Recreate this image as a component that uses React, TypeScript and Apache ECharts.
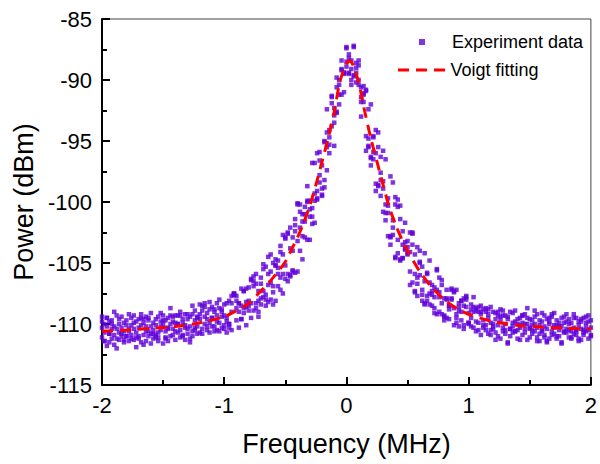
import React, { useEffect, useRef } from "react";
import * as echarts from "echarts";

const xTicks = [-2, -1, 0, 1, 2];
const yTicks = [-115, -110, -105, -100, -95, -90, -85];

const scatterX = [
  -2, -1.98, -1.96, -1.94, -1.92, -1.9, -1.88, -1.86, -1.84, -1.82, -1.8, -1.78, -1.76, -1.74, -1.72, -1.7, -1.68, -1.66, -1.64, -1.62,
  -1.6, -1.58, -1.56, -1.54, -1.52, -1.5, -1.48, -1.46, -1.44, -1.42, -1.4, -1.38, -1.36, -1.34, -1.32, -1.3, -1.28, -1.26, -1.24, -1.22,
  -1.2, -1.18, -1.16, -1.14, -1.12, -1.1, -1.08, -1.06, -1.04, -1.02,
  -1, -0.98, -0.96, -0.94, -0.92, -0.9, -0.88, -0.86, -0.84, -0.82, -0.8, -0.78, -0.76, -0.74, -0.72, -0.7, -0.68, -0.66, -0.64, -0.62,
  -0.6, -0.58, -0.56, -0.54, -0.52,
  -0.5, -0.48, -0.46, -0.44, -0.42, -0.4, -0.38, -0.36, -0.34, -0.32, -0.3, -0.28, -0.26, -0.24, -0.22, -0.2, -0.18, -0.16, -0.14, -0.12,
  -0.1, -0.08, -0.06, -0.04, -0.02, 0, 0.02, 0.04, 0.06, 0.08, 0.1, 0.12, 0.14, 0.16, 0.18, 0.2, 0.22, 0.24, 0.26, 0.28,
  0.3, 0.32, 0.34, 0.36, 0.38, 0.4, 0.42, 0.44, 0.46, 0.48, 0.5,
  0.52, 0.54, 0.56, 0.58, 0.6, 0.62, 0.64, 0.66, 0.68, 0.7, 0.72, 0.74, 0.76, 0.78, 0.8, 0.82, 0.84, 0.86, 0.88, 0.9,
  0.92, 0.94, 0.96, 0.98, 1,
  1.02, 1.04, 1.06, 1.08, 1.1, 1.12, 1.14, 1.16, 1.18, 1.2, 1.22, 1.24, 1.26, 1.28, 1.3, 1.32, 1.34, 1.36, 1.38, 1.4,
  1.42, 1.44, 1.46, 1.48, 1.5, 1.52, 1.54, 1.56, 1.58, 1.6, 1.62, 1.64, 1.66, 1.68, 1.7, 1.72, 1.74, 1.76, 1.78, 1.8,
  1.82, 1.84, 1.86, 1.88, 1.9, 1.92, 1.94, 1.96, 1.98, 2,
];

const scatterY1 = [
  -110.3, -111.4, -109.5, -110.8, -110.0, -111.7, -110.4, -109.6, -111.0, -111.5, -110.1, -109.2, -111.2, -110.4, -110.7, -109.6, -111.5, -109.9, -109.4, -111.0,
  -110.2, -111.2, -109.6, -110.7, -109.1, -111.6, -109.7, -110.3, -109.3, -110.9, -109.9, -110.7, -109.0, -111.0, -110.1, -109.6, -111.2, -109.2, -110.3, -109.5,
  -110.7, -108.9, -110.0, -109.1, -110.7, -109.5, -110.2, -108.3, -109.9, -109.4,
  -110.4, -109.5, -110.3, -109.0, -107.6, -109.7, -108.3, -108.5, -109.1, -108.2, -107.0, -106.4, -106.9, -105.9, -108.1, -108.4, -107.8, -105.3, -106.8, -105.7,
  -107.4, -105.2, -105.9, -106.2, -105.9,
  -103.0, -105.9, -106.0, -104.0, -101.4, -105.7, -100.2, -101.0, -101.0, -103.1, -101.2, -101.2, -96.8, -99.8, -98.4, -99.5, -95.1, -94.3, -94.7, -91.9,
  -95.4, -89.8, -91.2, -88.4, -89.4, -88.9, -87.9, -90.4, -87.2, -89.4, -90.0, -93.0, -91.8, -90.8, -95.5, -96.4, -96.5, -98.5, -95.5, -99.5,
  -98.3, -100.2, -99.7, -97.9, -101.5, -104.6, -100.4, -104.8, -104.6, -101.7, -104.3,
  -102.5, -103.5, -107.4, -107.7, -105.0, -105.3, -108.4, -105.9, -107.5, -108.5, -107.0, -107.2, -106.2, -106.4, -109.3, -107.2, -108.5, -107.1, -107.4, -109.9,
  -108.6, -109.7, -110.4, -107.8, -109.9,
  -108.4, -110.3, -108.7, -110.5, -108.5, -110.1, -109.0, -110.8, -108.6, -110.4, -109.1, -111.0, -108.8, -110.6, -109.3, -111.6, -109.0, -110.7, -108.9, -111.2,
  -109.5, -110.9, -109.2, -111.3, -109.6, -110.8, -108.9, -111.1, -109.7, -110.5, -109.3, -111.4, -109.8, -110.9, -109.1, -111.0, -109.9, -111.5, -109.4, -110.7,
  -109.6, -111.2, -109.2, -110.9, -109.8, -111.3, -109.5, -110.6, -109.3, -111.0,
];

const scatterY2 = [
  -111.1, -110.0, -111.8, -109.8, -111.2, -110.2, -109.3, -111.3, -110.8, -109.9, -111.0, -110.6, -109.5, -111.3, -109.8, -111.0, -110.1, -110.9, -111.4, -109.7,
  -110.8, -109.9, -111.1, -109.4, -110.5, -110.0, -111.1, -109.5, -111.0, -109.8, -110.6, -109.3, -110.5, -109.6, -111.3, -110.4, -109.4, -110.6, -108.9, -110.8,
  -109.2, -110.4, -109.4, -110.5, -108.8, -110.2, -109.0, -110.5, -108.7, -110.3,
  -108.4, -109.8, -110.0, -108.3, -107.5, -108.7, -110.3, -109.6, -107.3, -107.1, -108.5, -109.5, -106.1, -106.7, -109.0, -106.7, -105.1, -107.6, -104.5, -104.3,
  -106.9, -104.7, -105.4, -107.2, -107.5,
  -102.9, -106.5, -106.1, -105.7, -101.9, -103.2, -102.1, -104.7, -102.9, -98.7, -100.6, -101.8, -101.7, -99.7, -95.9, -99.4, -98.2, -92.4, -95.3, -91.3,
  -92.3, -92.6, -92.0, -91.2, -91.0, -88.5, -88.2, -88.4, -87.3, -89.0, -90.4, -91.4, -91.2, -94.6, -95.4, -92.0, -95.9, -94.1, -94.3, -97.6,
  -98.9, -96.5, -100.9, -103.5, -102.1, -99.6, -104.2, -100.3, -102.4, -103.9, -104.2,
  -106.8, -102.5, -104.3, -106.7, -104.0, -107.2, -104.2, -107.7, -106.6, -107.3, -109.1, -105.6, -109.0, -106.8, -109.4, -108.0, -108.8, -107.9, -108.7, -109.2,
  -108.3, -108.1, -107.9, -107.7, -110.0,
  -110.2, -108.6, -110.6, -109.0, -110.9, -108.8, -110.5, -109.2, -110.9, -109.0, -110.7, -109.3, -111.2, -108.9, -110.8, -109.4, -111.0, -109.1, -110.6, -109.6,
  -111.3, -109.3, -110.7, -109.5, -111.1, -109.7, -110.6, -109.2, -111.4, -109.8, -110.9, -109.6, -111.2, -109.4, -110.8, -109.7, -111.0, -109.5, -110.6, -109.2,
  -111.1, -109.9, -110.8, -109.5, -111.4, -109.8, -110.9, -109.4, -111.2, -109.7,
];

const scatterY3 = [
  -109.8, -110.7, -110.2, -111.5, -109.7, -110.9, -111.2, -110.0, -109.4, -110.6, -109.7, -111.4, -110.1, -109.3, -111.1, -110.3, -109.5, -111.7, -110.2, -110.6,
  -109.1, -110.5, -110.9, -111.4, -110.2, -109.3, -110.6, -111.4, -110.0, -110.4, -111.3, -110.0, -111.1, -109.9, -109.2, -110.8, -110.2, -111.0, -109.7, -110.2,
  -109.6, -110.8, -108.6, -110.2, -109.9, -108.6, -110.6, -109.3, -110.6, -108.8,
  -109.3, -108.3, -110.0, -110.5, -107.5, -108.1, -109.0, -107.1, -108.7, -108.6, -108.1, -106.3, -108.9, -108.3, -109.4, -106.2, -105.5, -108.5, -105.9, -106.6,
  -108.4, -105.2, -106.9, -103.6, -104.3,
  -106.3, -102.6, -102.1, -105.6, -105.8, -100.1, -100.8, -101.6, -100.4, -100.0, -99.9, -96.8, -99.9, -99.1, -97.8, -97.0, -95.0, -97.4, -96.0, -91.4,
  -92.9, -90.6, -90.4, -89.2, -89.5, -87.3, -89.5, -89.1, -89.6, -88.6, -88.8, -90.6, -90.5, -90.9, -94.8, -97.0, -94.7, -96.0, -98.7, -96.3,
  -100.8, -100.9, -102.8, -102.9, -98.4, -104.5, -99.8, -104.7, -103.5, -103.3, -103.2,
  -104.1, -102.6, -107.3, -106.2, -104.9, -108.1, -108.3, -108.1, -108.4, -107.6, -107.8, -109.2, -107.4, -108.3, -109.7, -107.9, -108.5, -107.2, -107.3, -109.5,
  -110.2, -109.0, -108.5, -108.6, -109.1,
  -109.5, -109.0, -109.8, -109.9, -109.2, -109.7, -110.1, -109.5, -109.9, -110.2, -109.6, -110.1, -109.7, -110.3, -110.0, -109.6, -110.4, -110.2, -109.8, -110.5,
  -110.1, -109.9, -110.4, -110.0, -110.3, -110.5, -110.0, -110.3, -110.1, -110.6, -110.2, -110.4, -110.0, -110.6, -110.3, -110.1, -110.5, -110.2, -110.7, -110.4,
  -110.0, -110.6, -110.3, -110.5, -110.1, -110.4, -110.7, -110.2, -110.5, -110.3,
];

const scatterY4 = [
  -109.4, -111.4, -109.5, -110.8, -110.4, -109.0, -112.0, -110.7, -110.3, -111.3, -111.0, -110.4, -110.9, -109.9, -111.9, -111.2, -109.2, -109.6, -110.6, -109.5,
  -111.6, -110.8, -110.1, -111.1, -109.8, -109.7, -111.2, -110.4, -108.7, -109.4, -109.3, -110.0, -109.3, -110.9, -110.3, -109.2, -111.5, -108.5, -110.5, -109.4,
  -108.4, -108.5, -108.3, -109.6, -108.2, -109.5, -108.8, -109.8, -108.0, -109.0,
  -110.1, -110.7, -108.1, -107.7, -107.6, -107.7, -108.3, -109.6, -107.3, -110.1, -108.9, -108.3, -106.5, -108.7, -107.3, -107.9, -107.3, -108.0, -108.2, -108.0,
  -105.0, -108.1, -104.8, -104.1, -102.7,
  -105.2, -102.5, -103.8, -102.9, -102.4, -100.2, -104.0, -102.8, -101.6, -99.9, -103.1, -100.5, -99.3, -96.0, -96.6, -98.9, -98.8, -95.5, -94.1, -93.8,
  -93.5, -92.7, -90.0, -89.1, -89.4, -87.4, -89.4, -90.0, -89.7, -90.2, -88.4, -91.8, -91.1, -95.8, -92.4, -96.3, -94.6, -99.1, -98.6, -98.2,
  -95.8, -101.5, -100.3, -102.8, -102.7, -100.2, -103.1, -101.4, -104.6, -103.8, -103.7,
  -105.7, -106.6, -105.9, -103.7, -106.0, -107.6, -106.5, -105.8, -104.8, -106.8, -108.7, -105.5, -107.8, -109.2, -107.9, -109.5, -109.6, -108.0, -110.1, -107.2,
  -108.9, -108.1, -110.1, -108.0, -109.9,
  -108.8, -107.8, -108.9, -108.6, -109.0, -110.3, -108.7, -108.8, -110.5, -110.0, -111.3, -109.0, -109.4, -109.3, -110.5, -111.5, -110.4, -109.9, -110.6, -110.0,
  -110.3, -109.3, -110.0, -108.7, -110.4, -110.1, -109.4, -111.4, -110.8, -109.1, -111.1, -111.5, -109.5, -109.2, -110.1, -111.2, -110.2, -111.6, -109.9, -109.8,
  -110.5, -111.1, -109.5, -110.6, -111.2, -109.6, -110.5, -109.9, -109.8, -110.9,
];

const fitX = [
  -2, -1.8, -1.6, -1.4, -1.2, -1, -0.9, -0.8, -0.7, -0.6, -0.5, -0.45, -0.4, -0.35, -0.3, -0.25, -0.2, -0.15, -0.1, -0.05,
  0, 0.025, 0.05, 0.1, 0.15, 0.2, 0.25, 0.3, 0.35, 0.4, 0.45, 0.5, 0.6, 0.7, 0.8, 0.9, 1, 1.2, 1.4, 1.6, 1.8, 2,
];
const fitY = [
  -110.6, -110.5, -110.35, -110.2, -109.9, -109.4, -108.9, -108.3, -107.3, -106.2, -104.9, -103.9, -102.9, -101.7, -100.3, -98.6, -96.7, -94.8, -92.6, -90.0,
  -88.7, -88.45, -88.7, -90.2, -92.6, -94.8, -96.7, -98.6, -100.4, -101.8, -103.0, -104.0, -105.7, -107.0, -108.0, -108.7, -109.2, -109.8, -110.1, -110.25, -110.35, -110.4,
];

const seriesNames = ["Experiment data", "Voigt fitting"];

export default function App() {
  const ref = useRef<HTMLDivElement>(null);

  useEffect(() => {
    document.body.style.margin = "0";
    if (!ref.current) return;
    const chart = echarts.init(ref.current, undefined, { renderer: "svg" });

    const scatterData: number[][] = [];
    [scatterY1, scatterY2, scatterY3, scatterY4].forEach((ys) => {
      ys.forEach((y, i) => scatterData.push([scatterX[i], y]));
    });
    const fitData = fitX.map((x, i) => [x, fitY[i]]);

    const font = "Arial, 'Liberation Sans', Helvetica, sans-serif";
    const purple = "#6000d8";
    const red = "#ff0000";

    chart.setOption({
      animation: false,
      backgroundColor: "#ffffff",
      textStyle: { fontFamily: font },
      grid: {
        left: 102,
        right: 3,
        top: 19,
        bottom: 79,
        show: true,
        borderColor: "#444",
        borderWidth: 1,
        backgroundColor: "transparent",
      },
      legend: [
        {
          data: [seriesNames[0]],
          left: 419,
          top: 33,
          itemWidth: 6,
          itemHeight: 6,
          icon: "rect",
          selectedMode: false,
          padding: 0,
          textStyle: { fontSize: 18, color: "#000", fontFamily: font, padding: [0, 0, 0, 22] },
        },
        {
          data: [{ name: seriesNames[1], icon: "path://M0,0 L11,0 L11,3 L0,3 Z M18,0 L29,0 L29,3 L18,3 Z M36,0 L47,0 L47,3 L36,3 Z" }],
          left: 398,
          top: 61,
          itemWidth: 48,
          itemHeight: 3,
          selectedMode: false,
          padding: 0,
          itemStyle: { color: red },
          lineStyle: { opacity: 0 },
          textStyle: { fontSize: 18, color: "#000", fontFamily: font },
        },
      ],
      xAxis: {
        type: "value",
        min: xTicks[0],
        max: xTicks[xTicks.length - 1],
        interval: 1,
        name: "Frequency (MHz)",
        nameLocation: "middle",
        nameGap: 45,
        nameTextStyle: { fontSize: 27, color: "#000", fontFamily: font },
        axisLine: { show: true, onZero: false, lineStyle: { color: "#000", width: 2 } },
        axisTick: { show: true, inside: true, length: 8, lineStyle: { color: "#000", width: 2 } },
        minorTick: { show: true, splitNumber: 2, length: 5, lineStyle: { color: "#000", width: 2 } },
        axisLabel: { fontSize: 22, color: "#000", margin: 9, fontFamily: font },
        splitLine: { show: false },
      },
      yAxis: {
        type: "value",
        min: yTicks[0],
        max: yTicks[yTicks.length - 1],
        interval: 5,
        name: "Power (dBm)",
        nameLocation: "middle",
        nameGap: 57,
        nameTextStyle: { fontSize: 27, color: "#000", fontFamily: font },
        axisLine: { show: true, onZero: false, lineStyle: { color: "#000", width: 2 } },
        axisTick: { show: true, inside: true, length: 8, lineStyle: { color: "#000", width: 2 } },
        minorTick: { show: true, splitNumber: 2, length: 5, lineStyle: { color: "#000", width: 2 } },
        axisLabel: { fontSize: 22, color: "#000", margin: 10, fontFamily: font },
        splitLine: { show: false },
      },
      series: [
        {
          name: seriesNames[0],
          type: "scatter",
          data: scatterData,
          symbol: "rect",
          symbolSize: 4.5,
          itemStyle: { color: purple },
          z: 2,
        },
        {
          name: seriesNames[1],
          type: "line",
          data: fitData,
          smooth: 0.3,
          showSymbol: false,
          symbol: "none",
          lineStyle: { color: red, width: 3, type: [11, 7] },
          itemStyle: { color: red },
          z: 3,
        },
      ],
    });

    return () => chart.dispose();
  }, []);

  return <div ref={ref} style={{ width: 600, height: 464 }} />;
}
